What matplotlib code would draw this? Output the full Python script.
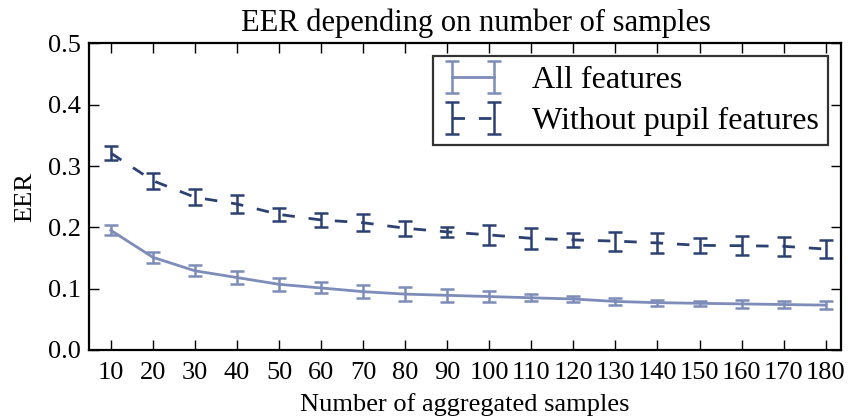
import numpy as np
import matplotlib
matplotlib.use("Agg")
from matplotlib import pyplot as plt

plt.rcParams["font.family"] = ["Liberation Serif", "DejaVu Serif"]

# aggregated sample counts
n_samples = [10, 20, 30, 40, 50, 60, 70, 80, 90, 100,
             110, 120, 130, 140, 150, 160, 170, 180]

# EER with all features
eer_all = [0.195, 0.151, 0.129, 0.118, 0.107, 0.101, 0.095, 0.091, 0.089, 0.087,
           0.085, 0.083, 0.079, 0.077, 0.076, 0.075, 0.074, 0.073]
err_all = [0.008, 0.009, 0.009, 0.011, 0.011, 0.009, 0.011, 0.012, 0.011, 0.009,
           0.006, 0.0045, 0.005, 0.005, 0.004, 0.006, 0.006, 0.006]

# EER without pupil features
eer_nopupil = [0.321, 0.276, 0.249, 0.238, 0.221, 0.212, 0.2075, 0.1985, 0.1925, 0.1876,
               0.182, 0.1794, 0.1775, 0.1745, 0.1705, 0.170, 0.169, 0.1645]
err_nopupil = [0.011, 0.013, 0.013, 0.014, 0.010, 0.012, 0.014, 0.0125, 0.0087, 0.016,
               0.017, 0.012, 0.0155, 0.017, 0.0127, 0.0155, 0.0157, 0.015]

fig = plt.figure(figsize=(8.48, 4.18), dpi=100)
ax = fig.add_axes([0.105, 0.163, 0.887, 0.733])

ax.errorbar(n_samples, eer_all, yerr=err_all, color="#7d8cb8", linewidth=2,
            elinewidth=1.8, capsize=5, capthick=1.8, label="All features")
ax.errorbar(n_samples, eer_nopupil, yerr=err_nopupil, color="#2c4172", linewidth=2,
            linestyle=(0, (4.5, 5)), elinewidth=1.8, capsize=5, capthick=1.8,
            label="Without pupil features")

ax.set_xlim(4.8, 183.7)
ax.set_ylim(0.0, 0.5)
ax.set_xticks(n_samples)
ax.set_yticks(np.arange(0, 0.51, 0.1))
ax.set_yticklabels([f"{v:.1f}" for v in np.arange(0, 0.51, 0.1)])
ax.tick_params(direction="in", top=True, right=True, length=7, width=1,
               labelsize=19)
ax.tick_params(axis="x", pad=9)
ax.tick_params(axis="y", pad=6)
for s in ax.spines.values():
    s.set_linewidth(1.6)

ax.set_title("EER depending on number of samples", fontsize=22, pad=9, x=0.515)
ax.set_xlabel("Number of aggregated samples", fontsize=19, labelpad=6)
ax.set_ylabel("EER", fontsize=19, labelpad=8)

leg = ax.legend(loc="upper right", fontsize=23, frameon=True, fancybox=False,
                numpoints=2, borderaxespad=0.4, borderpad=0.3, labelspacing=0.35,
                handlelength=1.9, handletextpad=0.9)
leg.get_frame().set_edgecolor("black")
leg.get_frame().set_linewidth(1.6)

plt.savefig("out.png", dpi=100)
plt.close()
